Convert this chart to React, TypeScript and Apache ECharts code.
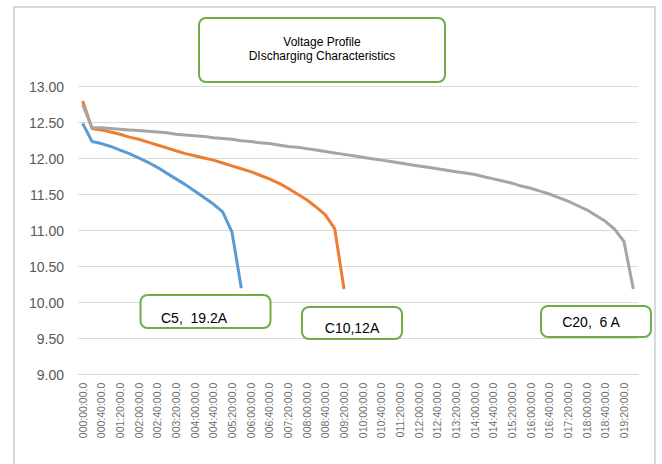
import React, { useEffect, useRef } from "react";
import * as echarts from "echarts";

const categories = [
  "000:00:00.0", "000:20:00.0", "000:40:00.0", "001:00:00.0", "001:20:00.0", "001:40:00.0",
  "002:00:00.0", "002:20:00.0", "002:40:00.0", "003:00:00.0", "003:20:00.0", "003:40:00.0",
  "004:00:00.0", "004:20:00.0", "004:40:00.0", "005:00:00.0", "005:20:00.0", "005:40:00.0",
  "006:00:00.0", "006:20:00.0", "006:40:00.0", "007:00:00.0", "007:20:00.0", "007:40:00.0",
  "008:00:00.0", "008:20:00.0", "008:40:00.0", "009:00:00.0", "009:20:00.0", "009:40:00.0",
  "010:00:00.0", "010:20:00.0", "010:40:00.0", "011:00:00.0", "011:20:00.0", "011:40:00.0",
  "012:00:00.0", "012:20:00.0", "012:40:00.0", "013:00:00.0", "013:20:00.0", "013:40:00.0",
  "014:00:00.0", "014:20:00.0", "014:40:00.0", "015:00:00.0", "015:20:00.0", "015:40:00.0",
  "016:00:00.0", "016:20:00.0", "016:40:00.0", "017:00:00.0", "017:20:00.0", "017:40:00.0",
  "018:00:00.0", "018:20:00.0", "018:40:00.0", "019:00:00.0", "019:20:00.0", "019:40:00.0",
];

const c5Values = [
  12.49, 12.24, 12.21, 12.17, 12.12, 12.07, 12.01, 11.95, 11.88, 11.8,
  11.72, 11.64, 11.55, 11.46, 11.37, 11.26, 10.98, 10.2,
];

const c10Values = [
  12.8, 12.42, 12.4, 12.37, 12.34, 12.3, 12.27, 12.23, 12.19, 12.15,
  12.11, 12.07, 12.04, 12.01, 11.98, 11.94, 11.9, 11.86, 11.82, 11.77,
  11.72, 11.66, 11.59, 11.51, 11.43, 11.33, 11.22, 11.03, 10.19,
];

const c20Values = [
  12.75, 12.43, 12.43, 12.42, 12.41, 12.4, 12.39, 12.38, 12.37, 12.36,
  12.34, 12.33, 12.32, 12.31, 12.29, 12.28, 12.27, 12.25, 12.24, 12.22,
  12.21, 12.19, 12.17, 12.16, 12.14, 12.12, 12.1, 12.08, 12.06, 12.04,
  12.02, 12.0, 11.98, 11.96, 11.94, 11.92, 11.9, 11.88, 11.86, 11.84,
  11.82, 11.8, 11.78, 11.75, 11.72, 11.69, 11.66, 11.62, 11.59, 11.55,
  11.51, 11.46, 11.41, 11.35, 11.29, 11.21, 11.13, 11.02, 10.85, 10.19,
];

const seriesNames = ["C5, 19.2A", "C10,12A", "C20, 6 A"];
const titleLines = ["Voltage Profile", "DIscharging Characteristics"];

const FONT = "'Liberation Sans', Arial, sans-serif";
const GREEN = "#70AD47";

function box(x: number, y: number, w: number, h: number) {
  return {
    type: "rect",
    shape: { x, y, width: w, height: h, r: 7 },
    style: { fill: "#ffffff", stroke: GREEN, lineWidth: 2 },
    z: 10,
  };
}

function label(text: string, x: number, y: number, align: string = "center", size = 12) {
  return {
    type: "text",
    x,
    y,
    z: 11,
    style: {
      text,
      fill: "#000000",
      font: `${size}px ${FONT}`,
      align,
      verticalAlign: "middle",
    },
  };
}

export default function App() {
  const ref = useRef<HTMLDivElement>(null);
  useEffect(() => {
    if (!ref.current) return;
    const chart = echarts.init(ref.current, undefined, { renderer: "svg" });
    chart.setOption({
      animation: false,
      backgroundColor: "#ffffff",
      grid: { left: 78, right: 24, top: 86.7, bottom: 89.3, containLabel: false },
      xAxis: {
        type: "category",
        data: categories,
        boundaryGap: true,
        axisLine: { show: true, lineStyle: { color: "#D9D9D9", width: 1 } },
        axisTick: { show: false },
        axisLabel: {
          interval: 1,
          rotate: 90,
          margin: 8,
          color: "#6f6f6f",
          fontSize: 10.5,
          fontFamily: FONT,
        },
        splitLine: { show: false },
      },
      yAxis: {
        type: "value",
        min: 9,
        max: 13,
        interval: 0.5,
        axisLine: { show: false },
        axisTick: { show: false },
        axisLabel: {
          formatter: (v: number) => v.toFixed(2),
          color: "#595959",
          fontSize: 14,
          fontFamily: FONT,
          margin: 14,
        },
        splitLine: { lineStyle: { color: "#D9D9D9", width: 1 } },
      },
      series: [
        {
          name: seriesNames[0],
          type: "line",
          data: c5Values,
          showSymbol: false,
          lineStyle: { color: "#5B9BD5", width: 3 },
          itemStyle: { color: "#5B9BD5" },
          z: 2,
        },
        {
          name: seriesNames[1],
          type: "line",
          data: c10Values,
          showSymbol: false,
          lineStyle: { color: "#ED7D31", width: 3 },
          itemStyle: { color: "#ED7D31" },
          z: 3,
        },
        {
          name: seriesNames[2],
          type: "line",
          data: c20Values,
          showSymbol: false,
          lineStyle: { color: "#A5A5A5", width: 3 },
          itemStyle: { color: "#A5A5A5" },
          z: 4,
        },
      ],
      graphic: [
        {
          type: "rect",
          shape: { x: 14, y: 7, width: 641, height: 480 },
          style: { fill: "none", stroke: "#D9D9D9", lineWidth: 2 },
          z: -1,
          silent: true,
        },
        box(199, 18, 246, 64),
        label(titleLines[0], 322, 42),
        label(titleLines[1], 322, 56),
        box(140.5, 295, 130, 33),
        label("C5,  19.2A", 161, 318, "left", 14),
        box(302, 307, 100, 32),
        label("C10,12A", 352, 328, "center", 14),
        box(541, 306, 110, 31),
        label("C20,  6 A", 591, 322, "center", 14),
      ],
    });
    return () => chart.dispose();
  }, []);
  return (
    <div
      ref={ref}
      style={{ position: "fixed", left: 0, top: 0, width: 662, height: 464 }}
    />
  );
}
